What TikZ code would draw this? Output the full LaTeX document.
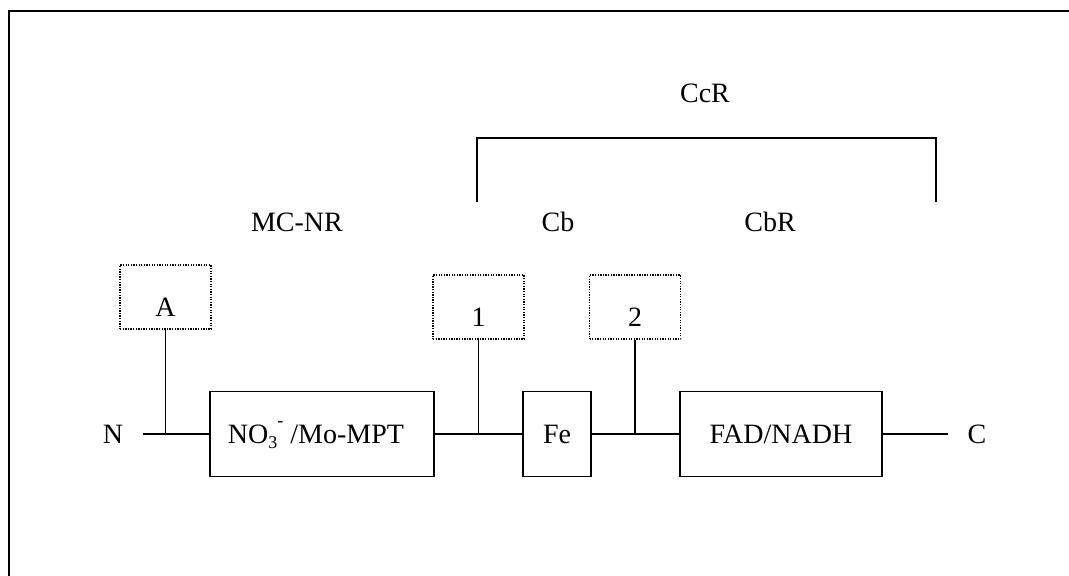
\documentclass[tikz,border=0pt]{standalone}
\usepackage{fontspec}
\setmainfont{Liberation Serif}
\begin{document}
\begin{tikzpicture}[x=1pt,y=-1pt,
  every node/.style={font=\fontsize{28}{32}\selectfont, inner sep=0pt},
  solidbox/.style={draw, line width=1.3pt, minimum height=85pt, text height=19pt, text depth=0pt},
  dotbox/.style={draw, line width=1.3pt, dash pattern=on 1.3pt off 1.3pt, minimum width=91pt, minimum height=64pt, text height=39pt, text depth=0pt},
  conn/.style={line width=1.3pt},
  frame/.style={line width=2pt}]
\useasboundingbox (0,0) rectangle (1069,576);
% frame
\coordinate (fr1) at (1075,11);
\coordinate (fr2) at (9,11);
\coordinate (fr3) at (9,582);
\draw[frame] (fr1) -- (fr2) -- (fr3);
% labels
\node (ccr) at (705,93) {CcR};
\node (mcnr) at (297,222) {MC-NR};
\node (cb) at (558,222) {Cb};
\node (cbr) at (770,222) {CbR};
% bracket
\coordinate (bl) at (477,202);
\coordinate (blt) at (477,138);
\coordinate (brt) at (936,138);
\coordinate (br) at (936,202);
\draw[conn] (bl) -- (blt) -- (brt) -- (br);
% dotted boxes
\node[dotbox] (A) at (165.5,297) {A};
\node[dotbox] (b1) at (478.5,307) {1};
\node[dotbox] (b2) at (635,307) {2};
% main boxes
\node[solidbox, minimum width=224pt] (mo) at (322,434) {NO\raisebox{-5pt}{\fontsize{18}{18}\selectfont 3}\raisebox{17pt}{\fontsize{18}{18}\selectfont -} /Mo-MPT\hspace*{12pt}};
\node[solidbox, minimum width=68pt] (fe) at (557,434) {Fe};
\node[solidbox, minimum width=202pt] (fad) at (781,434) {FAD/NADH};
% end labels
\node (N) at (113,434) {N};
\node (C) at (977,434) {C};
\coordinate (nstart) at (143,434);
\coordinate (cend) at (948,434);
\coordinate (j0) at (A.south |- nstart);
\coordinate (j1) at (b1.south |- nstart);
\coordinate (j2) at (b2.south |- nstart);
% connectors
\draw[conn] (nstart) -- (mo.west);
\draw[conn] (j0) -- (A.south);
\draw[conn] (mo.east) -- (fe.west);
\draw[conn] (j1) -- (b1.south);
\draw[conn] (fe.east) -- (fad.west);
\draw[conn] (j2) -- (b2.south);
\draw[conn] (fad.east) -- (cend);
\end{tikzpicture}
\end{document}
